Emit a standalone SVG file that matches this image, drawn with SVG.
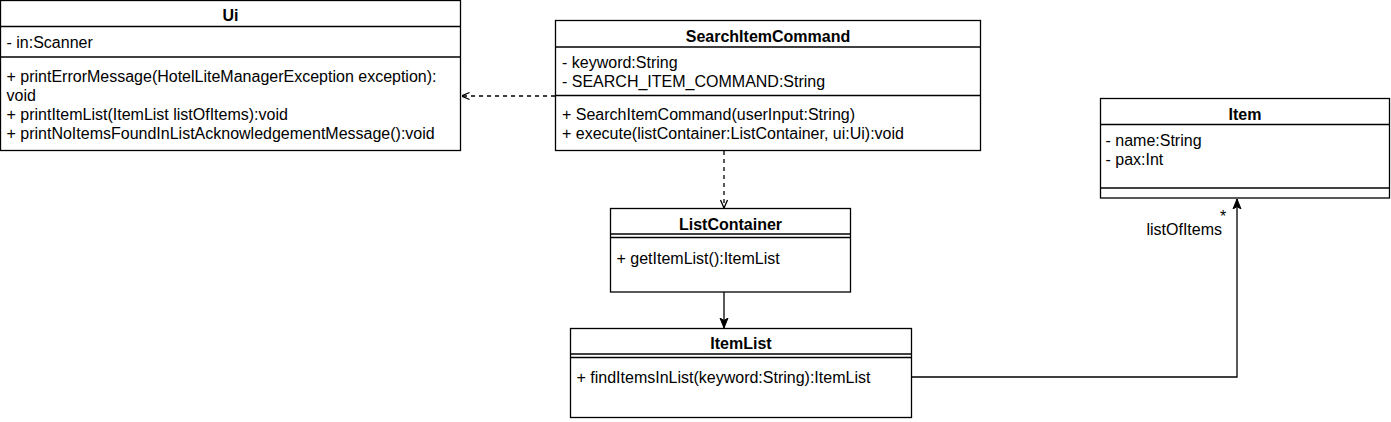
<svg xmlns="http://www.w3.org/2000/svg" width="1391" height="422" viewBox="0 0 1391 422">
<defs>
<style>
.box{fill:#fff;stroke:#000;stroke-width:1.3}
.ln{fill:none;stroke:#000;stroke-width:1.3}
.dash{fill:none;stroke:#000;stroke-width:1.3;stroke-dasharray:4 4}
text{font-family:"Liberation Sans",Arial,sans-serif;font-size:16px;fill:#000}
.t{font-weight:bold;text-anchor:middle}
</style>
<marker id="open" viewBox="0 0 10 10" refX="10" refY="5" markerWidth="10" markerHeight="10" markerUnits="userSpaceOnUse" orient="auto">
<path d="M2,1.5 L10,5 L2,8.5" fill="none" stroke="#000" stroke-width="1.3"/>
</marker>
<marker id="filled" viewBox="0 0 10 10" refX="10" refY="5" markerWidth="10" markerHeight="10" markerUnits="userSpaceOnUse" orient="auto">
<path d="M0,1 L10,5 L0,9 L2.5,5 Z" fill="#000" stroke="#000" stroke-width="1"/>
</marker>
</defs>
<rect width="1391" height="422" fill="#fff"/>

<g id="Ui">
<rect class="box" x="0.5" y="0.5" width="460" height="150"/>
<line class="ln" x1="0.5" y1="26.5" x2="460.5" y2="26.5"/>
<line class="ln" x1="0.5" y1="57" x2="460.5" y2="57"/>
<text class="t" x="230.5" y="21">Ui</text>
<text x="6.5" y="48">- in:Scanner</text>
<text x="6.5" y="81.5">+ printErrorMessage(HotelLiteManagerException exception):</text>
<text x="6.5" y="100.5">void</text>
<text x="6.5" y="119.5">+ printItemList(ItemList listOfItems):void</text>
<text x="6.5" y="138.5">+ printNoItemsFoundInListAcknowledgementMessage():void</text>
</g>

<g id="SearchItemCommand">
<rect class="box" x="555.5" y="20.5" width="425" height="130"/>
<line class="ln" x1="555.5" y1="47" x2="980.5" y2="47"/>
<line class="ln" x1="555.5" y1="95.5" x2="980.5" y2="95.5"/>
<text class="t" x="768" y="41.5">SearchItemCommand</text>
<text x="562" y="68">- keyword:String</text>
<text x="562" y="87">- SEARCH_ITEM_COMMAND:String</text>
<text x="562" y="120">+ SearchItemCommand(userInput:String)</text>
<text x="562" y="139">+ execute(listContainer:ListContainer, ui:Ui):void</text>
</g>

<g id="ListContainer">
<rect class="box" x="610.5" y="208.5" width="240" height="83.5"/>
<line class="ln" x1="610.5" y1="234" x2="850.5" y2="234"/>
<line class="ln" x1="610.5" y1="237.5" x2="850.5" y2="237.5"/>
<text class="t" x="730.5" y="229.5">ListContainer</text>
<text x="616.5" y="264">+ getItemList():ItemList</text>
</g>

<g id="ItemList">
<rect class="box" x="570.5" y="328.5" width="341" height="89"/>
<line class="ln" x1="570.5" y1="354" x2="911.5" y2="354"/>
<line class="ln" x1="570.5" y1="357.5" x2="911.5" y2="357.5"/>
<text class="t" x="741" y="349">ItemList</text>
<text x="576.5" y="383">+ findItemsInList(keyword:String):ItemList</text>
</g>

<g id="Item">
<rect class="box" x="1100.5" y="98.5" width="289" height="99.5"/>
<line class="ln" x1="1100.5" y1="124.5" x2="1389.5" y2="124.5"/>
<line class="ln" x1="1100.5" y1="188" x2="1389.5" y2="188"/>
<text class="t" x="1245" y="120">Item</text>
<text x="1105.5" y="146">- name:String</text>
<text x="1105.5" y="164.5">- pax:Int</text>
</g>

<g id="connectors">
<line class="dash" x1="555" y1="96" x2="461.5" y2="96" marker-end="url(#open)"/>
<line class="dash" x1="724" y1="151" x2="724" y2="208" marker-end="url(#open)"/>
<line class="ln" x1="724" y1="292" x2="724" y2="328" marker-end="url(#filled)"/>
<polyline class="ln" points="911.5,377 1237,377 1237,199" marker-end="url(#filled)"/>
<text x="1222" y="234.5" text-anchor="end">listOfItems</text>
<text x="1220" y="222">*</text>
</g>
</svg>
